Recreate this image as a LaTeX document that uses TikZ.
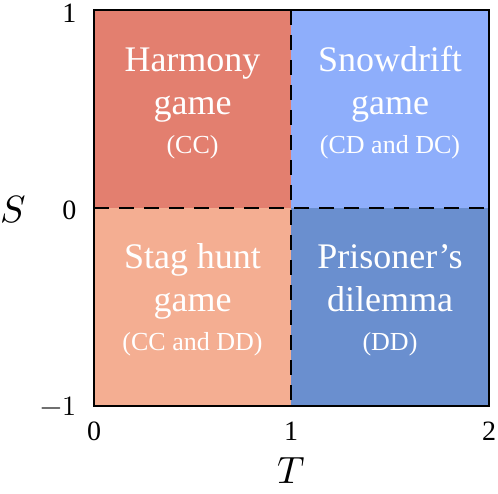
\documentclass[tikz,border=0pt]{standalone}
\usepackage{fontspec}
\setmainfont{Liberation Serif}
\usepackage{unicode-math}
\setmathfont{Latin Modern Math}
\definecolor{harm}{HTML}{E37F6F}
\definecolor{snow}{HTML}{8EAEFB}
\definecolor{stag}{HTML}{F4AE92}
\definecolor{pris}{HTML}{6A8FCF}
\newcommand{\subfont}{\fontsize{26}{30}\selectfont}
\tikzset{
  quad/.style={text=white,align=center,font=\fontsize{36}{43}\selectfont},
  tick/.style={font=\fontsize{28}{32}\selectfont},
  axlab/.style={font=\fontsize{38}{40}\selectfont},
  divider/.style={line width=2.3pt,dash pattern=on 15pt off 10pt}
}
\begin{document}
\begin{tikzpicture}[x=1pt,y=-1pt]
\useasboundingbox (0,0) rectangle (498,494);
\fill[harm] (94,10) rectangle (291,208);
\fill[snow] (291,10) rectangle (489,208);
\fill[stag] (94,208) rectangle (291,406);
\fill[pris] (291,208) rectangle (489,406);
\draw[divider] (291,10) -- (291,406);
\draw[divider] (94,208) -- (489,208);
\draw[line width=2.3pt] (94,10) rectangle (489,406);
\node[quad] (harmony) at (192.5,103) {Harmony\\game\\[-4pt]{\subfont (CC)}};
\node[quad] (snowdrift) at (390,103) {Snowdrift\\game\\[-4pt]{\subfont (CD and DC)}};
\node[quad] (stag) at (192.5,300) {Stag hunt\\game\\[-4pt]{\subfont (CC and DD)}};
\node[quad] (prisoner) at (390,300) {Prisoner’s\\dilemma\\[-4pt]{\subfont (DD)}};
\node[tick,anchor=east] (y1) at (80,13) {1};
\node[tick,anchor=east] (y0) at (80,210) {0};
\node[tick,anchor=east] (ym1) at (80,406) {$-1$};
\node[tick] (x0) at (94,431) {0};
\node[tick] (x1) at (291,431) {1};
\node[tick] (x2) at (489,431) {2};
\node[axlab] (T) at (291,471) {$T$};
\node[axlab] (S) at (13,210) {$S$};
\end{tikzpicture}
\end{document}
